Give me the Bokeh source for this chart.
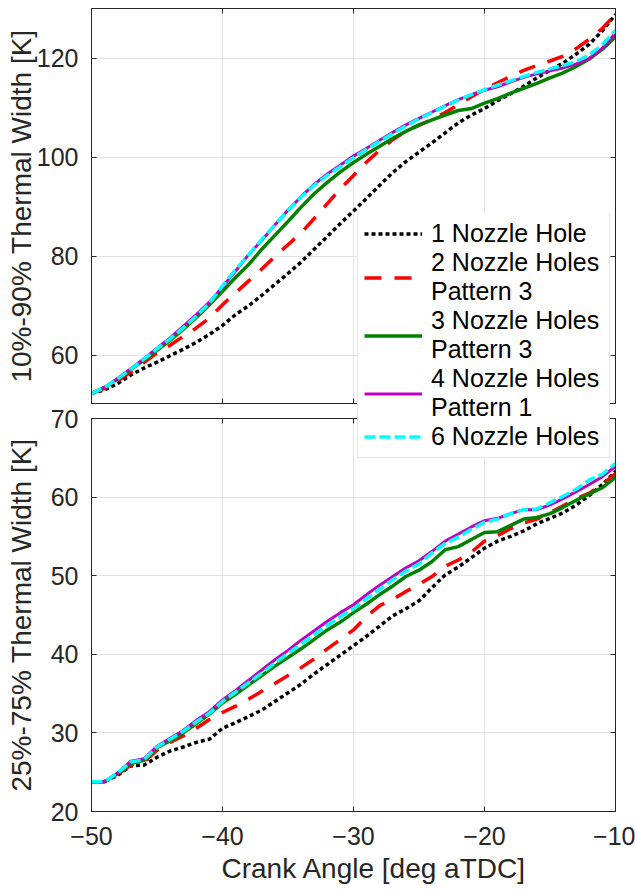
from bokeh.plotting import figure
from bokeh.models import (Range1d, LinearAxis, FixedTicker, Legend, LegendItem,
                          ColumnDataSource, Title)
from bokeh.layouts import column
from bokeh.embed import file_html
from bokeh.resources import INLINE

# ---------------- data ----------------
crank_angle = list(range(-50, -9))  # -50 ... -10 deg aTDC

x_ticks = [-50, -40, -30, -20, -10]
top_y_ticks = [60, 80, 100, 120]
bottom_y_ticks = [20, 30, 40, 50, 60, 70]

series_labels = ["1 Nozzle Hole", "2 Nozzle Holes\nPattern 3", "3 Nozzle Holes\nPattern 3",
                 "4 Nozzle Holes\nPattern 1", "6 Nozzle Holes"]

# 10%-90% thermal width [K]
w1090_1 = [52.3, 53.0, 54.3, 56.0, 57.4, 58.6, 59.9, 61.2, 62.6, 64.2, 66.0, 68.2, 70.0, 72.1,
           74.3, 76.5, 78.8, 81.4, 84.0, 86.6, 89.1, 91.7, 94.3, 96.9, 99.1, 101.0, 102.9,
           104.9, 106.9, 108.5, 109.8, 111.4, 112.8, 114.3, 116.0, 117.5, 119.0, 120.8, 122.8,
           125.5, 128.8]
w1090_2 = [52.3, 53.3, 54.8, 56.6, 58.5, 60.5, 62.0, 63.8, 65.5, 67.5, 70.2, 72.6, 75.0, 77.4,
           79.9, 82.3, 84.7, 87.6, 90.6, 93.6, 96.3, 99.0, 101.4, 103.5, 105.2, 106.4, 107.6,
           109.0, 110.6, 112.2, 113.7, 115.0, 116.3, 117.5, 118.5, 119.4, 120.4, 121.9, 123.8,
           126.0, 128.8]
w1090_3 = [52.3, 53.5, 55.2, 57.1, 59.0, 61.0, 63.0, 65.2, 67.6, 70.2, 72.9, 75.7, 78.3, 81.4,
           84.2, 87.0, 89.9, 92.6, 94.9, 97.0, 98.9, 100.6, 102.2, 103.8, 105.2, 106.5, 107.5,
           108.5, 109.4, 109.8, 110.9, 111.8, 112.9, 113.9, 114.9, 116.0, 117.0, 118.3, 119.8,
           121.8, 124.3]
w1090_4 = [52.3, 53.5, 55.3, 57.3, 59.3, 61.4, 63.5, 65.8, 68.2, 70.7, 73.8, 77.0, 80.3, 83.2,
           86.3, 89.3, 92.0, 94.5, 96.6, 98.4, 100.2, 101.8, 103.4, 105.0, 106.5, 107.8, 109.1,
           110.4, 111.6, 112.6, 113.5, 114.2, 115.2, 116.1, 116.8, 117.4, 118.0, 118.8, 119.9,
           122.0, 125.0]
w1090_6 = [52.3, 53.5, 55.2, 57.2, 59.2, 61.3, 63.3, 65.5, 67.9, 70.5, 74.0, 77.3, 80.3, 83.4,
           86.3, 89.2, 91.9, 94.3, 96.3, 98.1, 99.9, 101.6, 103.2, 104.8, 106.3, 107.7, 109.0,
           110.3, 111.5, 112.6, 113.6, 114.5, 115.4, 116.3, 117.1, 117.8, 118.5, 119.3, 120.6,
           122.7, 125.6]

# 25%-75% thermal width [K]
w2575_1 = [23.8, 23.8, 24.6, 25.8, 25.9, 26.9, 27.7, 28.2, 28.8, 29.2, 30.6, 31.3, 32.1, 32.9,
           34.0, 35.1, 36.2, 37.5, 38.7, 39.9, 41.1, 42.3, 43.6, 44.9, 45.8, 46.8, 48.5, 50.1,
           51.1, 52.3, 53.5, 54.4, 55.0, 55.7, 56.6, 57.3, 58.0, 59.0, 60.2, 61.6, 63.3]
w2575_2 = [23.8, 23.8, 24.7, 25.9, 26.3, 27.8, 28.8, 29.6, 30.6, 31.7, 32.6, 33.4, 34.3, 35.3,
           36.3, 37.3, 38.3, 39.4, 40.7, 41.9, 43.1, 44.8, 46.2, 47.0, 48.0, 48.9, 49.9, 51.2,
           52.0, 53.0, 54.4, 55.1, 56.0, 56.7, 57.2, 58.0, 58.9, 59.8, 60.5, 61.6, 63.0]
w2575_3 = [23.8, 23.8, 24.8, 26.1, 26.5, 28.1, 29.0, 30.0, 31.2, 32.4, 33.8, 34.9, 36.1, 37.3,
           38.5, 39.6, 40.7, 41.9, 43.1, 44.1, 45.3, 46.4, 47.6, 48.7, 49.9, 50.7, 51.8, 53.3,
           53.7, 54.6, 55.5, 55.6, 56.4, 57.2, 57.4, 57.9, 58.7, 59.6, 60.4, 61.2, 62.5]
w2575_4 = [23.8, 23.8, 24.9, 26.4, 26.7, 28.3, 29.3, 30.3, 31.6, 32.7, 34.2, 35.4, 36.7, 38.0,
           39.3, 40.5, 41.8, 43.0, 44.2, 45.3, 46.3, 47.6, 48.8, 49.9, 51.0, 51.9, 53.1, 54.4,
           55.3, 56.2, 57.0, 57.3, 57.9, 58.4, 58.4, 59.0, 59.8, 60.7, 61.6, 62.6, 63.9]
w2575_6 = [23.8, 23.8, 24.9, 26.3, 26.6, 28.2, 29.2, 30.2, 31.4, 32.5, 34.0, 35.2, 36.4, 37.6,
           38.9, 40.1, 41.3, 42.5, 43.7, 44.8, 45.8, 47.1, 48.3, 49.5, 50.6, 51.5, 52.9, 54.1,
           54.9, 55.9, 56.8, 57.2, 57.9, 58.4, 58.5, 59.3, 60.1, 61.0, 62.2, 62.9, 64.3]

# ---------------- styles ----------------
FONT = "Liberation Sans"
AX = "#262626"
GRID = "#e2e2e2"
STYLES = [
    dict(line_color="#000000", line_width=3.5, line_dash="4 3"),
    dict(line_color="#ff0000", line_width=3.5, line_dash="17 13"),
    dict(line_color="#008000", line_width=3.5),
    dict(line_color="#bf00bf", line_width=3),
    dict(line_color="#00ffff", line_width=3.5, line_dash="11 4"),
]


def style_axis(ax, ticks, labels=True, standoff=13):
    ax.axis_line_color = AX
    if labels:
        ax.ticker = FixedTicker(ticks=ticks)
        ax.major_tick_in = 5
        ax.major_tick_out = 0
        ax.major_tick_line_color = AX
        ax.minor_tick_line_color = None
        ax.major_label_text_font = FONT
        ax.major_label_text_color = AX
        ax.major_label_text_font_size = "25px"
        ax.major_label_standoff = standoff
    else:
        # tick marks only (no labels): minor ticks placed at the tick positions
        ax.ticker = FixedTicker(ticks=[], minor_ticks=ticks)
        ax.minor_tick_in = 5
        ax.minor_tick_out = 0
        ax.minor_tick_line_color = AX
        ax.major_tick_line_color = None
        ax.major_label_standoff = 0
    ax.axis_label_text_font = FONT
    ax.axis_label_text_font_size = "28px"
    ax.axis_label_text_font_style = "normal"
    ax.axis_label_text_color = AX


def make_panel(height, y_start, y_end, y_ticks, ylabel, ylabel_standoff,
               border_top, border_bottom, show_x_labels):
    p = figure(width=635, height=height, x_range=Range1d(-50, -10),
               y_range=Range1d(y_start, y_end), output_backend="svg",
               toolbar_location=None, min_border_left=91, min_border_right=20,
               min_border_top=border_top, min_border_bottom=border_bottom)
    p.outline_line_color = AX
    p.outline_line_width = 1
    p.background_fill_color = "white"

    style_axis(p.xaxis[0], x_ticks, labels=show_x_labels, standoff=15)
    style_axis(p.yaxis[0], y_ticks, labels=True, standoff=13)
    p.yaxis[0].axis_label = ylabel
    p.yaxis[0].axis_label_standoff = ylabel_standoff

    right = LinearAxis()
    style_axis(right, y_ticks, labels=False)
    p.add_layout(right, "right")
    top = LinearAxis()
    style_axis(top, x_ticks, labels=False)
    p.add_layout(top, "above")

    p.xgrid.ticker = FixedTicker(ticks=x_ticks)
    p.ygrid.ticker = FixedTicker(ticks=y_ticks)
    p.xgrid.grid_line_color = GRID
    p.ygrid.grid_line_color = GRID
    return p


# top panel: page y 0..408, frame 8..403
p1 = make_panel(408, 50.25, 130, top_y_ticks, "10%-90% Thermal Width [K]", -3,
                border_top=8, border_bottom=5, show_x_labels=False)
# bottom panel: page y 398..893 (transparent border), frame 418..813
p2 = make_panel(495, 20, 70, bottom_y_ticks, "25%-75% Thermal Width [K]", 11,
                border_top=20, border_bottom=82, show_x_labels=True)
p2.border_fill_color = None
p2.margin = (-10, 0, 0, 0)
# x-axis title (placed slightly right of the frame centre, as in the original figure)
p2.add_layout(Title(text="Crank Angle [deg aTDC]", align="left", offset=130, standoff=7,
                    text_font=FONT, text_font_size="28px", text_font_style="normal",
                    text_color=AX), "below")

src = ColumnDataSource(dict(crank=crank_angle,
                            a1=w1090_1, a2=w1090_2, a3=w1090_3, a4=w1090_4, a6=w1090_6,
                            b1=w2575_1, b2=w2575_2, b3=w2575_3, b4=w2575_4, b6=w2575_6))

for col, st in zip(["a1", "a2", "a3", "a4", "a6"], STYLES):
    p1.line("crank", col, source=src, **st)
for col, st in zip(["b1", "b2", "b3", "b4", "b6"], STYLES):
    p2.line("crank", col, source=src, **st)

# legend overlay: a transparent figure (same frame columns as the panels) laid over
# both panels, page y 213..465
LEG_TOP = 213
LEG_H = 252
p3 = figure(width=635, height=LEG_H, x_range=Range1d(0, 1), y_range=Range1d(0, 1),
            output_backend="svg", toolbar_location=None,
            x_axis_location=None, y_axis_location=None,
            min_border_left=91, min_border_right=20, min_border_top=0, min_border_bottom=0)
p3.outline_line_color = None
p3.background_fill_color = None
p3.border_fill_color = None
p3.grid.visible = False
p3.margin = (LEG_TOP - 893, 0, 893 - LEG_TOP - LEG_H, 0)

leg_renderers = []
for col, st in zip(["b1", "b2", "b3", "b4", "b6"], STYLES):
    # same series; the overlay's range shows no data, only the legend keys
    leg_renderers.append(p3.line("crank", col, source=src, **st))

legend = Legend(
    items=[LegendItem(label=lab, renderers=[r]) for lab, r in zip(series_labels, leg_renderers)],
    location=(266, 7), margin=0, padding=6, spacing=0,
    glyph_width=58, glyph_height=29, label_height=29, label_width=172, label_standoff=9,
    label_text_font=FONT, label_text_font_size="25px", label_text_color="#000000",
    label_text_line_height=1.17,
    border_line_color="#cccccc", border_line_width=1,
    background_fill_color="white", background_fill_alpha=1.0,
)
p3.add_layout(legend)

layout = column(p1, p2, p3, spacing=0)

open("out.html", "w").write(file_html(layout, INLINE, title="Thermal width"))
